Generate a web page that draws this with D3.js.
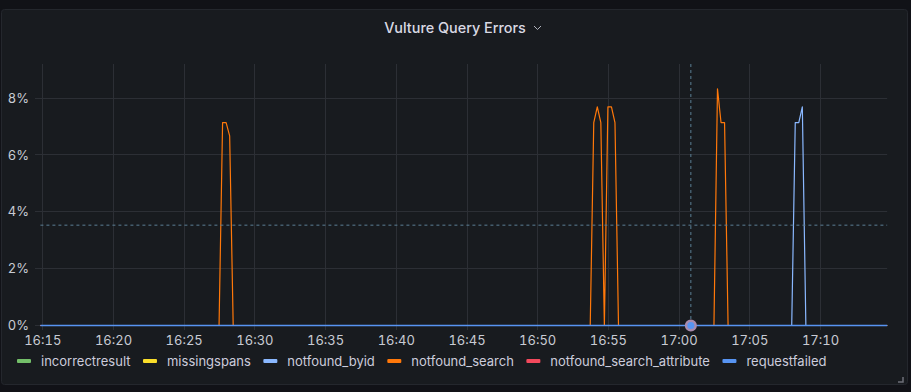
<!DOCTYPE html>
<html>
<head>
<meta charset="utf-8">
<script src="https://cdn.jsdelivr.net/npm/d3@7"></script>
<style>
  html, body { margin: 0; padding: 0; background: #111217; }
  svg { display: block; font-variant-numeric: tabular-nums; }
</style>
</head>
<body>
<script>
// series, in legend order
var seriesNames = ["incorrectresult", "missingspans", "notfound_byid", "notfound_search", "notfound_search_attribute", "requestfailed"];
var seriesColors = ["#73BF69", "#FADE2A", "#8AB8FF", "#FF780A", "#F2495C", "#5794F2"];

// time range of the query (all series sit at 0 outside the spikes)
var rangeStart = "16:14:52";
var rangeEnd = "17:14:45";

// notfound_search spikes (% errors)
var searchTimes = ["16:27:30", "16:27:45", "16:28:00", "16:28:15", "16:28:30",
    "16:53:45", "16:54:00", "16:54:15", "16:54:30", "16:54:45", "16:55:00", "16:55:15", "16:55:30", "16:55:45",
    "17:02:30", "17:02:45", "17:03:00", "17:03:15", "17:03:30"];
var searchValues = [0, 7.14, 7.14, 6.67, 0,
    0, 7.14, 7.69, 7.14, 0, 7.69, 7.69, 7.14, 0,
    0, 8.33, 7.14, 7.14, 0];

// notfound_byid spike
var byidTimes = ["17:08:00", "17:08:15", "17:08:30", "17:08:45", "17:09:00"];
var byidValues = [0, 7.14, 7.14, 7.69, 0];

var xTicks = ["16:15", "16:20", "16:25", "16:30", "16:35", "16:40", "16:45", "16:50", "16:55", "17:00", "17:05", "17:10"];
var yTicks = [0, 2, 4, 6, 8];

// hover state shown in the picture
var cursorTime = "17:00:52";
var cursorValue = 3.53;

var w = 911, h = 392;
var font = "Inter, 'Noto Sans', sans-serif";
var parse = d3.timeParse("%Y-%m-%d %H:%M:%S");
function t(s) {
    if (s.length == 5) s = s + ":00";
    return parse("2023-01-01 " + s);
}

var svg = d3.select("body").append("svg")
    .attr("width", w)
    .attr("height", h)
    .style("font-family", font);

// panel
svg.append("rect")
    .attr("x", 1.5).attr("y", 9.5)
    .attr("width", 906).attr("height", 375)
    .attr("rx", 3)
    .attr("fill", "#181b1f")
    .attr("stroke", "#24272d");

svg.append("text")
    .attr("x", 455).attr("y", 33)
    .attr("text-anchor", "middle")
    .attr("font-size", "14.4px")
    .attr("font-weight", 500)
    .attr("fill", "#d8d9e3")
    .text("Vulture Query Errors");

svg.append("path")
    .attr("d", "M534,26 l3.5,3.5 l3.5,-3.5")
    .attr("fill", "none")
    .attr("stroke", "#b0b3bd")
    .attr("stroke-width", 1);

var xScale = d3.scaleTime()
    .domain([t("16:15"), t("17:10")])
    .range([42.3, 820]);

var yScale = d3.scaleLinear()
    .domain([0, 9.2])
    .range([325.5, 64]);

var plotLeft = xScale(t(rangeStart));
var plotRight = xScale(t(rangeEnd));

// grid
var grid = svg.append("g");
grid.selectAll("line.v")
    .data(xTicks)
    .enter().append("line")
    .attr("x1", function(d) { return Math.round(xScale(t(d))) + 0.5; })
    .attr("x2", function(d) { return Math.round(xScale(t(d))) + 0.5; })
    .attr("y1", 64).attr("y2", 330)
    .attr("stroke", "#2c2f35");
grid.selectAll("line.h")
    .data(yTicks)
    .enter().append("line")
    .attr("x1", 35).attr("x2", plotRight)
    .attr("y1", function(d) { return Math.floor(yScale(d)) + 0.5; })
    .attr("y2", function(d) { return Math.floor(yScale(d)) + 0.5; })
    .attr("stroke", "#2c2f35");

// axes labels
var xAxis = d3.axisBottom(xScale)
    .tickValues(xTicks.map(t))
    .tickFormat(d3.timeFormat("%H:%M"))
    .tickSize(0)
    .tickPadding(0);
var gx = svg.append("g")
    .attr("transform", "translate(0,336)")
    .call(xAxis);
gx.select(".domain").remove();
gx.selectAll("text")
    .attr("font-size", "13px")
    .attr("font-family", font)
    .attr("fill", "#c8cbd4");

var yAxis = d3.axisLeft(yScale)
    .tickValues(yTicks)
    .tickFormat(function(d) { return d + "%"; })
    .tickSize(0)
    .tickPadding(0);
var gy = svg.append("g")
    .attr("transform", "translate(29,0)")
    .call(yAxis);
gy.select(".domain").remove();
gy.selectAll("text")
    .attr("font-size", "13px")
    .attr("font-family", font)
    .attr("fill", "#c8cbd4");

// series data
function buildSeries(times, values) {
    var pts = [{ t: t(rangeStart), v: 0 }];
    for (var i = 0; i < times.length; i++) pts.push({ t: t(times[i]), v: values[i] });
    pts.push({ t: t(rangeEnd), v: 0 });
    return pts;
}
var seriesData = seriesNames.map(function(name) {
    if (name == "notfound_search") return buildSeries(searchTimes, searchValues);
    if (name == "notfound_byid") return buildSeries(byidTimes, byidValues);
    return buildSeries([], []);
});

var line = d3.line()
    .x(function(d) { return xScale(d.t); })
    .y(function(d) { return yScale(d.v); });

var last = seriesNames.length - 1;
svg.append("g").selectAll("path")
    .data(seriesData)
    .enter().append("path")
    .attr("d", line)
    .attr("fill", "none")
    .attr("stroke", function(d, i) { return seriesColors[i]; })
    .attr("stroke-width", function(d, i) { return i == last ? 1.6 : 1.2; })
    .attr("stroke-linejoin", "round");

// crosshair
var cx = xScale(t(cursorTime));
svg.append("line")
    .attr("x1", cx).attr("x2", cx)
    .attr("y1", 64).attr("y2", 325)
    .attr("stroke", "#5b7f95")
    .attr("stroke-dasharray", "3,3");
svg.append("line")
    .attr("x1", plotLeft).attr("x2", plotRight)
    .attr("y1", yScale(cursorValue)).attr("y2", yScale(cursorValue))
    .attr("stroke", "#5b7f95")
    .attr("stroke-dasharray", "3,3");
svg.append("circle")
    .attr("cx", cx).attr("cy", yScale(0))
    .attr("r", 4.8)
    .attr("fill", "#5794F2")
    .attr("stroke", "#a98bad")
    .attr("stroke-width", 2.5);

// legend
var legend = svg.append("g").attr("transform", "translate(0,361)");
var lx = 17;
seriesNames.forEach(function(name, i) {
    legend.append("rect")
        .attr("x", lx).attr("y", -2)
        .attr("width", 14).attr("height", 4)
        .attr("rx", 1)
        .attr("fill", seriesColors[i]);
    var txt = legend.append("text")
        .attr("x", lx + 24).attr("y", 0)
        .attr("dy", "0.35em")
        .attr("font-size", "13px")
        .attr("fill", "#ccccdc")
        .text(name);
    lx = lx + 24 + txt.node().getComputedTextLength() + 12.5;
});

// resize handle
svg.append("path")
    .attr("d", "M903,377 v5 h-5")
    .attr("fill", "none")
    .attr("stroke", "#6e7079")
    .attr("stroke-width", 1.5);
</script>
</body>
</html>
